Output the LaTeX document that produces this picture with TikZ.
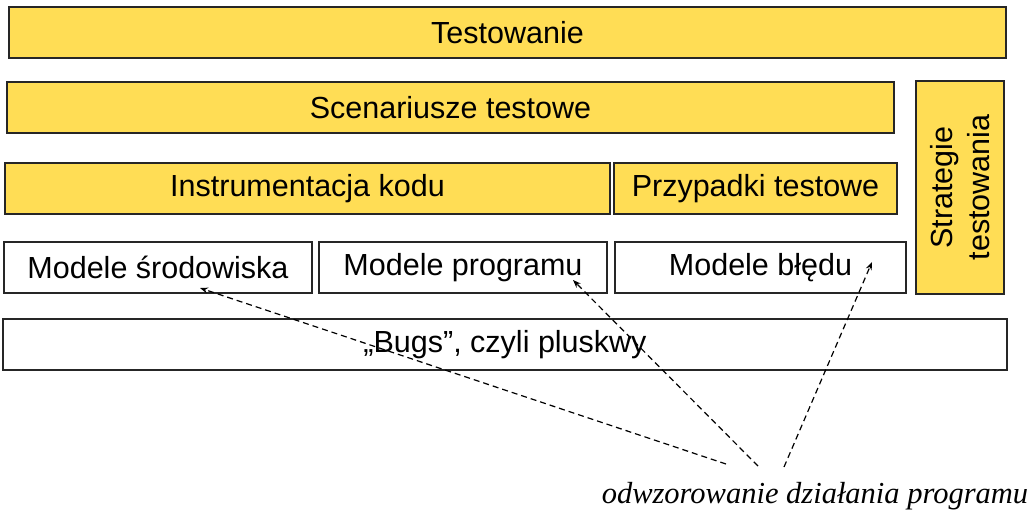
\documentclass[tikz,border=0pt]{standalone}
\usepackage{fontspec}
\setmainfont{Liberation Sans}
\newfontfamily\notefont{Liberation Serif}
\usetikzlibrary{arrows.meta, positioning}
\definecolor{cyellow}{HTML}{FFDD55}
\definecolor{cline}{HTML}{262626}
\tikzset{
  every picture/.style={line width=1.5pt},
  layer/.style={draw=cline, fill=#1, minimum height=51pt, inner sep=0pt, font=\fontsize{30.5}{37}\selectfont},
  layer/.default=cyellow,
  arrow/.style={-{Stealth[length=8pt, width=6pt]}, draw=black, line width=1.2pt, dash pattern=on 6pt off 4pt},
  note/.style={font=\notefont\itshape\fontsize{30.5}{36}\selectfont, inner sep=0pt},
}

\begin{document}
\begin{tikzpicture}[x=1pt, y=-1pt]
  \useasboundingbox (0,0) rectangle (1036,515);
  % yellow layers
  \node[layer, minimum width=997pt] (test) at (507.5,32.5) {Testowanie};
  \node[layer, minimum width=887pt] (scen) at (450.5,107.5) {Scenariusze testowe};
  \node[layer, minimum width=605pt] (instr) at (307.5,188.5) {Instrumentacja kodu};
  \node[layer, minimum width=283pt] (przyp) at (755.5,188.5) {Przypadki testowe};
  \node[layer, rotate=90, align=center, minimum width=213pt, minimum height=88pt] (strat) at (960,187.5) {Strategie\\testowania};
  % white layers
  \node[layer=white, minimum width=308pt] (mSrod) at (158,267.5) {Modele środowiska};
  \node[layer=white, minimum width=288pt] (mProg) at (463,267.5) {Modele programu};
  \node[layer=white, minimum width=291pt] (mBled) at (760.5,267.5) {Modele błędu};
  \node[layer=white, minimum width=1004pt] (bugs) at (505,344.5) {„Bugs”, czyli pluskwy};
  % mapping arrows
  \node[note, anchor=base] (odwz) at (815,503) {odwzorowanie działania programu};
  \coordinate (fromSrod) at (726,464);
  \coordinate (fromProg) at (758,466);
  \coordinate (fromBled) at (784,467);
  \coordinate (tipSrod) at (200,288);
  \coordinate (tipProg) at (573,280);
  \coordinate (tipBled) at (872,262);
  \draw[arrow] (fromSrod) -- (tipSrod);
  \draw[arrow] (fromProg) -- (tipProg);
  \draw[arrow] (fromBled) -- (tipBled);
\end{tikzpicture}
\end{document}
